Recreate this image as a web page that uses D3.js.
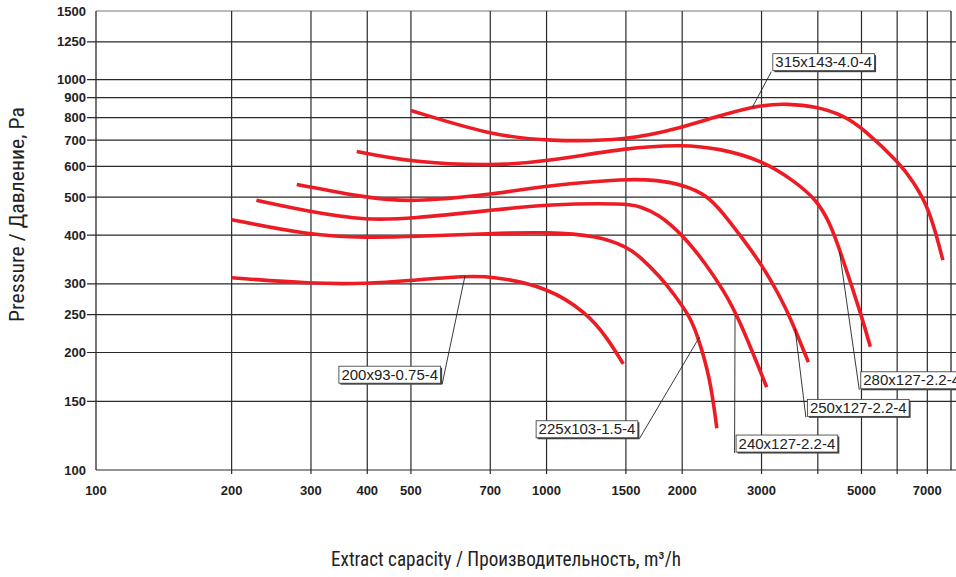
<!DOCTYPE html>
<html><head><meta charset="utf-8">
<script src="https://cdn.jsdelivr.net/npm/d3@7"></script>
<style>body{margin:0;background:#fff;overflow:hidden}</style>
</head><body>
<svg id="c" width="956" height="577"></svg>
<script>
// ---- data ----
const xTickValues=[100,200,300,400,500,750,1000,1500,2000,3000,5000,7000];
const xTickLabels=["100","200","300","400","500","700","1000","1500","2000","3000","5000","7000"];
const xGridValues=[200,300,400,500,750,1000,1500,2000,3000,4000,5000,6000,7000];
const yTickValues=[100,150,200,250,300,400,500,600,700,800,900,1000,1250,1500];
const yTickLabels=["100","150","200","250","300","400","500","600","700","800","900","1000","1250","1500"];

const seriesNames=["200x93-0.75-4","225x103-1.5-4","240x127-2.2-4","250x127-2.2-4","280x127-2.2-4","315x143-4.0-4"];
const q200=[200,300,400,500,660,755,1010,1230,1360,1480];
const p200=[311,300,300,306,314,314,294,252,219,187];
const q225=[200,300,400,500,755,1010,1290,1510,1612,1785,1910,2081,2155,2307,2387];
const p225=[438,399,394,396,404,407,399,373,352,313,284,247,224,173,128];
const q240=[227,300,400,500,755,1010,1510,1612,1760,2010,2266,2467,2664,3080];
const p240=[491,458,436,441,463,480,482,473,455,400,335,289,247,163];
const q250=[279,400,500,755,1010,1510,1760,2008,2266,2467,2687,3026,3296,3469,3811];
const p250=[539,498,485,508,536,558,553,538,507,455,400,332,278,247,189];
const q280=[379,500,755,1010,1510,2010,2430,3000,3528,3980,4256,4478,5010,5230];
const p280=[655,615,601,618,670,682,666,622,553,492,429,366,247,207];
const q315=[500,755,1010,1510,2010,2430,3000,3410,3980,4560,5050,6090,6514,6982,7278,7580];
const p315=[834,720,696,698,756,810,863,868,854,810,749,610,548,478,412,345];
const seriesQ=[q200,q225,q240,q250,q280,q315];
const seriesP=[p200,p225,p240,p250,p280,p315];

// label annotations (data coordinates)
const labelBoxQ=[346,948,2634,3792,4982,3178];
const labelBoxP=[184.5,133.7,122.9,151.7,178.5,1166];
const labelPointQ=[659,2184,2620,3561,4470,2864];
const labelPointP=[314,219,249,230,362,851];
const labelSide=["right","right","left","left","left","left"];

const xTitle="Extract capacity / Производительность, m³/h";
const yTitle="Pressure / Давление, Pa";

// ---- drawing ----
const svg=d3.select("#c");
const x=d3.scaleLog().domain([100,7900]).range([96,951]);
const y=d3.scaleLog().domain([100,1500]).range([470,11]);
const gridColor="#2a2a2a";

const g=svg.append("g");
g.selectAll("line.h").data(yTickValues).enter().append("line")
  .attr("x1",d=>(d===100||d===1500)?x(100):x(100)-9)
  .attr("x2",d=>d===1500?x(7900):956)
  .attr("y1",d=>y(d)).attr("y2",d=>y(d))
  .attr("stroke",d=>d===1500?"#777":gridColor).attr("stroke-width",1.2);
g.selectAll("line.v").data(xGridValues).enter().append("line")
  .attr("x1",d=>x(d)).attr("x2",d=>x(d))
  .attr("y1",y(1500)).attr("y2",y(100)+4)
  .attr("stroke",gridColor).attr("stroke-width",1.2);
g.append("line").attr("x1",x(100)).attr("x2",x(100)).attr("y1",y(1500)).attr("y2",y(100)).attr("stroke",gridColor).attr("stroke-width",1.3);
g.append("line").attr("x1",x(7900)).attr("x2",x(7900)).attr("y1",y(1500)).attr("y2",y(100)).attr("stroke",gridColor).attr("stroke-width",1.3);

svg.append("g").selectAll("text").data(yTickValues).enter().append("text")
  .attr("x",86).attr("y",d=>y(d)+4.5).attr("text-anchor","end")
  .attr("font-family","Liberation Sans, Arial, sans-serif").attr("font-weight","bold").attr("font-size",13)
  .attr("fill","#222").text((d,i)=>yTickLabels[i]);
svg.append("g").selectAll("text").data(xTickValues).enter().append("text")
  .attr("x",d=>x(d)).attr("y",495).attr("text-anchor","middle")
  .attr("font-family","Liberation Sans, Arial, sans-serif").attr("font-weight","bold").attr("font-size",13)
  .attr("fill","#222").text((d,i)=>xTickLabels[i]);

const line=d3.line().x(d=>x(d[0])).y(d=>y(d[1])).curve(d3.curveBasis);
seriesQ.forEach((qs,i)=>{
  const pts=qs.map((q,j)=>[q,seriesP[i][j]]);
  svg.append("path").attr("d",line(pts)).attr("fill","none")
    .attr("stroke","#ed1c24").attr("stroke-width",3.6).attr("stroke-linecap","butt");
});

const lg=svg.append("g");
seriesNames.forEach((name,i)=>{
  const bx=x(labelBoxQ[i]), by=y(labelBoxP[i]);
  const t=lg.append("text").attr("x",bx+2.5).attr("y",by+13.5)
    .attr("font-family","Liberation Sans, Arial, sans-serif").attr("font-size",15)
    .attr("fill","#222").text(name);
  const w=t.node().getComputedTextLength()+5, h=17;
  const cx=labelSide[i]==="right"?bx+w+1.5:bx-1.5, cy=by+h+1;
  lg.insert("line","text").attr("x1",cx).attr("y1",cy)
    .attr("x2",x(labelPointQ[i])).attr("y2",y(labelPointP[i]))
    .attr("stroke","#222").attr("stroke-width",0.9);
  lg.insert("rect","text").attr("x",bx+1.5).attr("y",by+1.5).attr("width",w).attr("height",h)
    .attr("fill","#444");
  lg.insert("rect","text").attr("x",bx).attr("y",by).attr("width",w).attr("height",h)
    .attr("fill","#fff").attr("stroke","#333").attr("stroke-width",0.8);
  t.raise();
});

svg.append("text").attr("x",506).attr("y",566).attr("text-anchor","middle")
  .attr("font-family","Liberation Sans Narrow, Arial Narrow, Roboto Condensed, sans-serif")
  .attr("font-size",20).attr("fill","#222")
  .attr("textLength",350).attr("lengthAdjust","spacingAndGlyphs").text(xTitle);
svg.append("text").attr("transform","translate(24,214.5) rotate(-90)").attr("text-anchor","middle")
  .attr("font-family","Liberation Sans Narrow, Arial Narrow, Roboto Condensed, sans-serif")
  .attr("font-size",20).attr("fill","#222")
  .attr("textLength",215).attr("lengthAdjust","spacingAndGlyphs").text(yTitle);
</script>
</body></html>
